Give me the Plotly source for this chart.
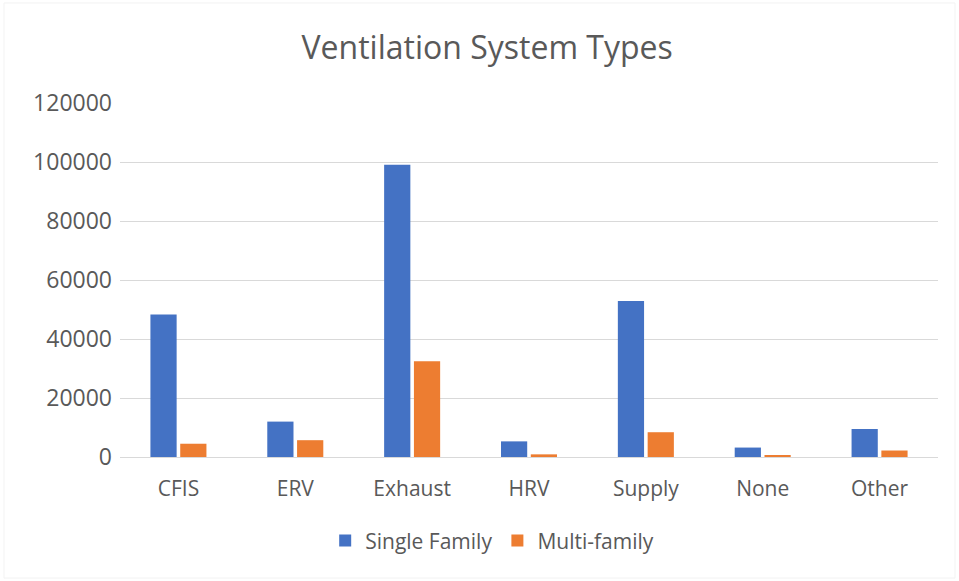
import plotly.graph_objects as go

categories = ["CFIS", "ERV", "Exhaust", "HRV", "Supply", "None", "Other"]
single_family = [48300, 12000, 99100, 5300, 52900, 3200, 9500]
multi_family = [4500, 5700, 32500, 900, 8400, 600, 2200]
y_ticks = [0, 20000, 40000, 60000, 80000, 100000, 120000]
y_tick_labels = [str(v) for v in y_ticks]

fig = go.Figure()
fig.add_trace(go.Bar(x=categories, y=single_family, name="Single Family",
                     marker=dict(color="#4472C4", line=dict(width=0))))
fig.add_trace(go.Bar(x=categories, y=multi_family, name="Multi-family",
                     marker=dict(color="#ED7D31", line=dict(width=0))))

fig.update_layout(
    width=959, height=581,
    template="simple_white",
    font=dict(family="Open Sans", size=20, color="#595959"),
    title=dict(text="Ventilation System Types", x=0.508, xanchor="center",
               y=0.917, yanchor="middle", font=dict(size=32, color="#595959")),
    margin=dict(l=120, r=21, t=103, b=124),
    barmode="group", bargap=0.49, bargroupgap=0.12,
    plot_bgcolor="white", paper_bgcolor="white",
    legend=dict(orientation="h", x=0.455, xanchor="center", y=-0.237, yanchor="middle",
                font=dict(size=21, color="#595959"), itemwidth=30,
                traceorder="normal"),
    shapes=[dict(type="rect", xref="paper", yref="paper", layer="below",
                 x0=-0.1418, x1=1.0208, y0=-0.342, y1=1.2825,
                 fillcolor="rgba(0,0,0,0)",
                 line=dict(color="#d9d9d9", width=1))],
)
fig.update_yaxes(range=[0, 120000], tickvals=y_ticks, ticktext=y_tick_labels,
                 showgrid=True, gridcolor="#d9d9d9",
                 gridwidth=1, showline=False, ticks="", zeroline=False,
                 tickfont=dict(size=23, color="#595959"), ticklabelstandoff=7)
fig.update_xaxes(showline=True, linecolor="#d9d9d9", linewidth=1, ticks="",
                 tickfont=dict(size=21, color="#595959"), ticklabelstandoff=13)

fig.write_html("out.html", config={"displayModeBar": False},
               post_script="document.body.style.margin='0';")
